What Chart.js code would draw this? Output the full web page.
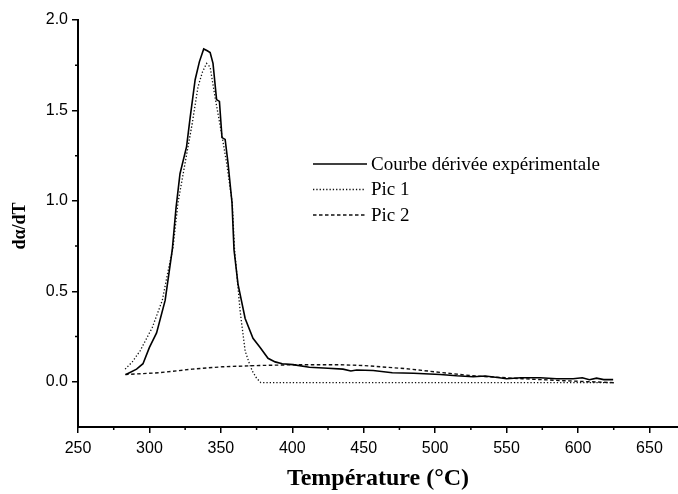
<!DOCTYPE html>
<html>
<head>
<meta charset="utf-8">
<script src="https://cdn.jsdelivr.net/npm/chart.js@4/dist/chart.umd.min.js"></script>
<style>
  html, body { margin: 0; padding: 0; background: #fff; }
  canvas { display: block; }
</style>
</head>
<body>
<canvas id="chart" width="678" height="494"></canvas>
<script>
// values
const expT = [283.6, 291, 295.5, 300, 305, 311, 316, 318.6, 321.4, 326, 328.5, 332, 335, 338, 340.5, 342.5, 344.5, 347, 349, 350.8, 353, 355, 357.8, 359.2, 362, 367, 372.5, 377.5, 383, 388, 393, 400.5, 412, 425, 435.5, 441, 445, 456.6, 470, 485, 503.5, 515, 526.6, 535, 545, 550, 560, 573.5, 585, 596.6, 603, 608, 613, 618, 624.6];
const expY = [0.04, 0.07, 0.10, 0.19, 0.27, 0.45, 0.73, 0.96, 1.15, 1.30, 1.46, 1.67, 1.77, 1.84, 1.83, 1.82, 1.76, 1.56, 1.55, 1.35, 1.34, 1.21, 0.99, 0.73, 0.54, 0.35, 0.24, 0.19, 0.13, 0.11, 0.10, 0.095, 0.08, 0.075, 0.07, 0.06, 0.065, 0.062, 0.05, 0.047, 0.04, 0.033, 0.028, 0.032, 0.022, 0.017, 0.022, 0.022, 0.017, 0.017, 0.022, 0.011, 0.02, 0.012, 0.012];

const pic1T = [283, 288, 293.4, 302, 309, 313, 316.5, 320, 325, 330, 334, 337, 340, 342.5, 346, 351, 354, 358, 359.5, 361, 363.5, 367, 370, 372, 375, 378, 400, 450, 500, 550, 600, 625];
const pic1Y = [0.07, 0.11, 0.17, 0.30, 0.45, 0.61, 0.74, 0.99, 1.21, 1.43, 1.63, 1.71, 1.76, 1.74, 1.57, 1.35, 1.21, 0.99, 0.74, 0.61, 0.39, 0.17, 0.10, 0.06, 0.02, -0.005, -0.005, -0.005, -0.005, -0.005, -0.005, -0.005];

const pic2T = [283, 307, 330, 351, 377, 400, 433, 450, 470, 480, 500, 526, 561, 590, 625];
const pic2Y = [0.04, 0.05, 0.07, 0.083, 0.09, 0.094, 0.094, 0.09, 0.078, 0.072, 0.055, 0.033, 0.017, 0.006, -0.005];

const seriesLabels = ['Courbe dérivée expérimentale', 'Pic 1', 'Pic 2'];
const xTicks = [250, 300, 350, 400, 450, 500, 550, 600, 650];
const xMinorTicks = [275, 325, 375, 425, 475, 525, 575, 625];
const yTicks = [0.0, 0.5, 1.0, 1.5, 2.0];
const yMinorTicks = [0.25, 0.75, 1.25, 1.75];
const xTitle = 'Température (°C)';
const yTitle = 'dα/dT';

const toPoints = (xs, ys) => xs.map((x, i) => ({ x: x, y: ys[i] }));

// minor tick marks, y title and the in-plot legend
const extras = {
  id: 'extras',
  afterDraw(chart) {
    const ctx = chart.ctx;
    const xs = chart.scales.x, ys = chart.scales.y;
    const area = chart.chartArea;
    ctx.save();
    ctx.strokeStyle = '#000';
    ctx.lineWidth = 1.5;
    ctx.beginPath();
    xMinorTicks.forEach(v => {
      const px = xs.getPixelForValue(v);
      ctx.moveTo(px, area.bottom);
      ctx.lineTo(px, area.bottom + 3);
    });
    yMinorTicks.forEach(v => {
      const py = ys.getPixelForValue(v);
      ctx.moveTo(area.left, py);
      ctx.lineTo(area.left - 3, py);
    });
    ctx.stroke();

    // y axis title
    ctx.fillStyle = '#000';
    ctx.font = 'bold 18px "Liberation Serif", serif';
    ctx.textAlign = 'center';
    ctx.textBaseline = 'middle';
    ctx.translate(20, 226);
    ctx.rotate(-Math.PI / 2);
    ctx.fillText(yTitle, 0, 0);
    ctx.restore();

    // legend
    ctx.save();
    ctx.font = '19px "Liberation Serif", serif';
    ctx.textAlign = 'left';
    ctx.textBaseline = 'middle';
    ctx.fillStyle = '#000';
    chart.data.datasets.forEach((ds, i) => {
      const y = 164 + i * 25.5;
      ctx.strokeStyle = ds.borderColor;
      ctx.lineWidth = ds.borderWidth;
      ctx.setLineDash(ds.borderDash || []);
      ctx.beginPath();
      ctx.moveTo(313, y);
      ctx.lineTo(i === 0 ? 367 : 365, y);
      ctx.stroke();
      ctx.fillText(ds.label, 371, y + 1);
    });
    ctx.restore();
  }
};

new Chart(document.getElementById('chart').getContext('2d'), {
  type: 'line',
  data: {
    datasets: [
      {
        label: seriesLabels[0],
        data: toPoints(expT, expY),
        borderColor: '#000',
        borderWidth: 1.6,
        borderDash: []
      },
      {
        label: seriesLabels[1],
        data: toPoints(pic1T, pic1Y),
        borderColor: '#111',
        borderWidth: 1.3,
        borderDash: [1.3, 2]
      },
      {
        label: seriesLabels[2],
        data: toPoints(pic2T, pic2Y),
        borderColor: '#111',
        borderWidth: 1.4,
        borderDash: [3.5, 2.5]
      }
    ]
  },
  options: {
    responsive: false,
    animation: false,
    devicePixelRatio: 1,
    layout: { padding: { top: 20, right: 0, left: 0, bottom: 0 } },
    elements: {
      point: { radius: 0 },
      line: { tension: 0, fill: false }
    },
    plugins: {
      legend: { display: false },
      tooltip: { enabled: false }
    },
    scales: {
      x: {
        type: 'linear',
        min: 250,
        max: 670,
        afterBuildTicks: s => { s.ticks = xTicks.map(v => ({ value: v })); },
        afterFit: s => { s.height = 67; },
        grid: { display: true, drawOnChartArea: false, drawTicks: true, tickLength: 6, color: '#000', lineWidth: 1.5 },
        border: { display: true, color: '#000', width: 2 },
        ticks: {
          padding: 6,
          maxRotation: 0,
          color: '#000',
          font: { family: '"Liberation Sans", Arial, sans-serif', size: 16 },
          callback: v => String(v)
        },
        title: {
          display: true,
          text: xTitle,
          color: '#000',
          font: { family: '"Liberation Serif", serif', size: 24, weight: 'bold' },
          padding: { top: 0, bottom: 1 }
        }
      },
      y: {
        type: 'linear',
        min: -0.25,
        max: 2.0,
        afterBuildTicks: s => { s.ticks = yTicks.map(v => ({ value: v })); },
        afterFit: s => { s.width = 78; },
        grid: { display: true, drawOnChartArea: false, drawTicks: true, tickLength: 6, color: '#000', lineWidth: 1.5 },
        border: { display: true, color: '#000', width: 2 },
        ticks: {
          padding: 4,
          color: '#000',
          font: { family: '"Liberation Sans", Arial, sans-serif', size: 16 },
          callback: v => v.toFixed(1)
        }
      }
    }
  },
  plugins: [extras]
});
</script>
</body>
</html>
